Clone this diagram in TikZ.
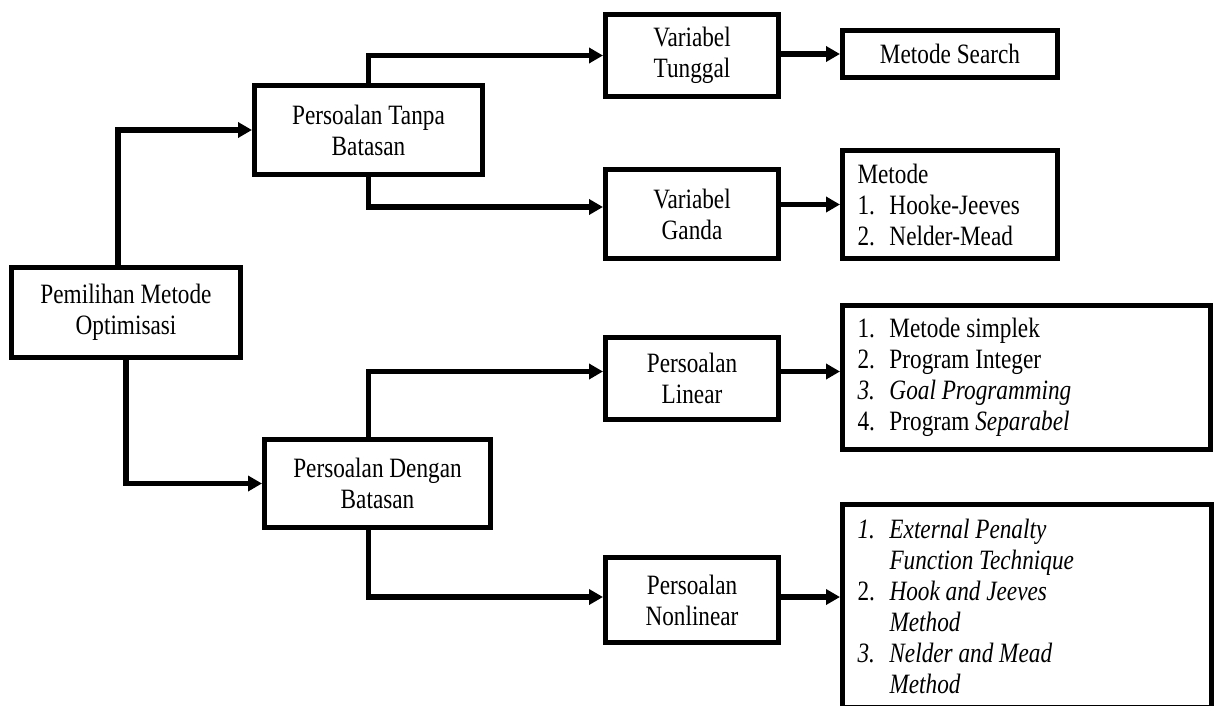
\documentclass[tikz,border=0pt]{standalone}
\usepackage{fontspec}
\setmainfont{Liberation Serif}[FakeStretch=0.83]
\usetikzlibrary{arrows.meta,shadows}

\newcommand\listno[1]{\makebox[16pt][l]{#1}}

\tikzset{
  box/.style={draw, line width=2.5pt, align=center, inner sep=3pt, fill=white,
    font=\fontsize{14}{15.5}\selectfont,
    drop shadow={shadow xshift=1pt, shadow yshift=-1pt, opacity=.25}},
  listbox/.style={box, align=flush left, inner xsep=7.5pt},
  link/.style={line width=2.6pt, -{Triangle[length=7pt,width=7.5pt]}},
}

\begin{document}
\begin{tikzpicture}[x=0.5pt,y=-0.5pt]
  \clip (0,0) rectangle (1215,706);

  % main boxes
  \node[box, minimum width=114.5pt, minimum height=45pt] (root) at (126,312.5) {Pemilihan Metode\\Optimisasi};
  \node[box, minimum width=114pt, minimum height=44.5pt] (tanpa) at (368.5,130) {Persoalan Tanpa\\Batasan};
  \node[box, minimum width=113pt, minimum height=44pt] (dengan) at (377.5,483.5) {Persoalan Dengan\\Batasan};

  % second level
  \node[box, minimum width=86.5pt, minimum height=41pt] (tunggal) at (692,55.5) {Variabel\\Tunggal};
  \node[box, minimum width=86.5pt, minimum height=44.5pt] (ganda) at (692,214) {Variabel\\Ganda};
  \node[box, minimum width=86.5pt, minimum height=41pt] (linear) at (692,378.5) {Persoalan\\Linear};
  \node[box, minimum width=86.5pt, minimum height=42.5pt] (nonlin) at (692,600) {Persoalan\\Nonlinear};

  % methods
  \node[box, minimum width=107.5pt, minimum height=23.5pt] (search) at (950,54) {Metode Search};
  \node[listbox, text width=92.5pt, minimum height=54pt] (hooke) at (950,204.5)
    {Metode\\\listno{1.}Hooke-Jeeves\\\listno{2.}Nelder-Mead};
  \node[listbox, text width=169pt, minimum height=72pt] (listlin) at (1026.5,377.5)
    {\listno{1.}Metode simplek\\
     \listno{2.}Program Integer\\
     \listno{\textit{3.}}\textit{Goal Programming}\\
     \listno{4.}Program \textit{Separabel}};
  \node[listbox, text width=169.5pt, minimum height=101.5pt] (listnon) at (1027,606)
    {\listno{\textit{1.}}\textit{External Penalty}\\
     \hspace*{16pt}\textit{Function Technique}\\
     \listno{2.}\textit{Hook and Jeeves}\\
     \hspace*{16pt}\textit{Method}\\
     \listno{\textit{3.}}\textit{Nelder and Mead}\\
     \hspace*{16pt}\textit{Method}};

  % connectors
  \draw[link] ([xshift=-4pt]root.north) |- (tanpa.west);
  \draw[link] (root.south) |- (dengan.west);
  \draw[link] (tanpa.north) |- (tunggal.west);
  \draw[link] (tanpa.south) |- ([yshift=3.5pt]ganda.west);
  \draw[link] (tanpa.south |- dengan.north) |- ([yshift=3.5pt]linear.west);
  \draw[link] (tanpa.south |- dengan.south) |- ([yshift=1.5pt]nonlin.west);

  \draw[link] (tunggal.east |- search.west) -- (search.west);
  \draw[link] (ganda.east |- hooke.west) -- (hooke.west);
  \draw[link] ([yshift=3.5pt]linear.east) -- ([yshift=3.5pt]linear.east -| listlin.west);
  \draw[link] ([yshift=1.5pt]nonlin.east) -- ([yshift=1.5pt]nonlin.east -| listnon.west);
\end{tikzpicture}
\end{document}
